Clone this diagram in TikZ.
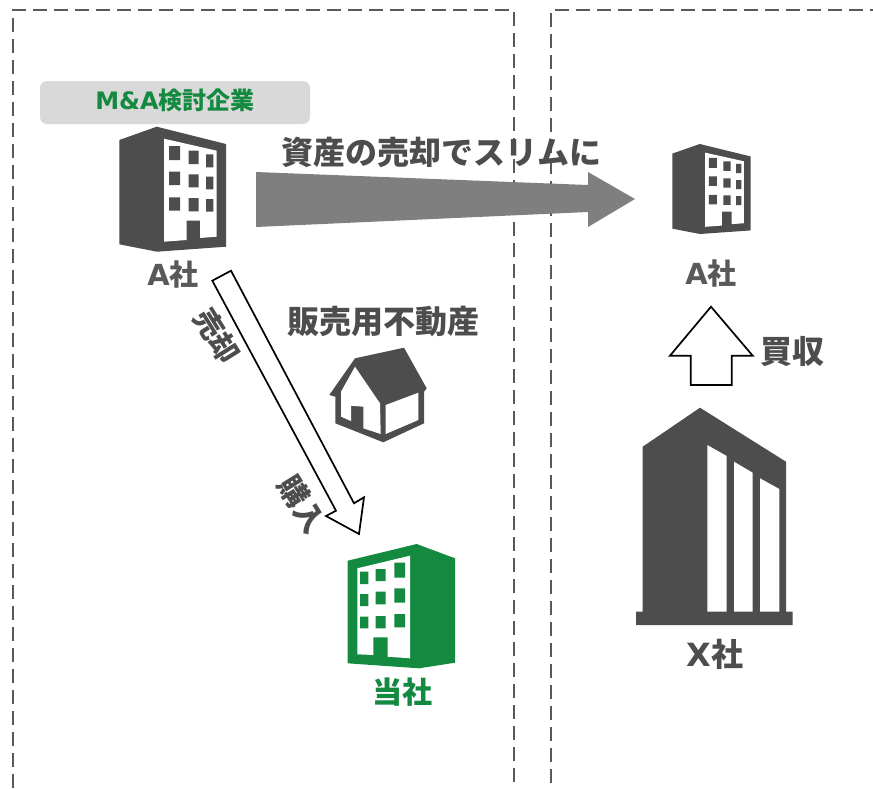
\documentclass[tikz,border=0pt]{standalone}
\usepackage{fontspec}
\setmainfont{DejaVu Sans}[BoldFont={DejaVu Sans Bold}]
\newfontfamily\jpfont{Noto Sans CJK JP Bold}
\definecolor{ink}{HTML}{4D4D4D}
\definecolor{midgray}{HTML}{595959}
\definecolor{corp}{HTML}{148A40}
\definecolor{pill}{HTML}{D9D9D9}
\definecolor{shaft}{HTML}{7F7F7F}
\tikzset{
  boundary/.style={draw=midgray,line width=2pt,dash pattern=on 14pt off 7pt},
  lab/.style={font=\bfseries\fontsize{#1}{#1}\selectfont,inner sep=0pt,anchor=center},
  outlinearrow/.style={draw=black,line width=1.7pt,fill=white,line join=miter},
}
\newcommand{\Lat}[1]{{\fontspec{DejaVu Sans Bold}#1}}
\newcommand{\JP}[1]{{\jpfont #1}}
\newcommand{\BldgA}{%
  \fill[ink] (119.3,140)--(156.7,126.7)--(226,144)--(226,246.7)--(157,251.7)--(119.3,244.3)--cycle;
  \fill[white] (164,138.7)--(216.7,150.7)--(216.7,236.7)--(200,238)--(200,220.7)--(186.7,220.7)--(186.7,240)--(164,241.7)--cycle;
  \fill[ink] (169,146)rectangle(180,160) (188.7,150.7)rectangle(198.7,164) (206,154.3)rectangle(213.3,167.3)
             (169,171.7)rectangle(180,185) (188.7,174.3)rectangle(198.7,187.3) (206,176.7)rectangle(213.3,189.3)
             (169,197.3)rectangle(180,210.7) (188.7,198)rectangle(198.7,211.3) (206,199)rectangle(213.3,211.7);
}
\begin{document}
\begin{tikzpicture}[x=1pt,y=-1pt]
\useasboundingbox (0,0) rectangle (873,788);
% boundaries
\coordinate (lt) at (13,10); \coordinate (lb) at (13,788);
\coordinate (mt) at (514,10); \coordinate (mb) at (514,788);
\coordinate (rt) at (551,10); \coordinate (rb) at (551,783);
\coordinate (re) at (873,10);
\draw[boundary] (lb)--(lt)--(mt)--(mb);
\draw[boundary] (rb)--(rt)--(re);
% label pill
\fill[pill,rounded corners=7pt] (40,81) rectangle (310,124);
\node[lab=24pt,text=corp] (ma) at (175,100) {\Lat{M\&A}\JP{検討企業}};
% left A building
\BldgA
\node[lab=29pt,text=midgray] (a1) at (173,275) {\Lat{A}\JP{社}};
% grey arrow
\fill[shaft] (256,172)--(588,185)--(588,172)--(635,199)--(588,227)--(588,212)--(256,227)--cycle;
\node[lab=32pt,text=ink] (slim) at (441,152) {\JP{資産の売却でスリムに}};
% right A building
\begin{scope}[shift={(672.3,144)},xscale=.735,yscale=.72,shift={(-119.3,-126.7)}]
\BldgA
\end{scope}
\node[lab=29pt,text=midgray] (a2) at (711,274) {\Lat{A}\JP{社}};
% diagonal arrow
\draw[outlinearrow] (212.3,280.7)--(231,270.7)--(354,503.3)--(364,497.3)--(359,534)--(326,516)--(336,510.7)--cycle;
\node[lab=29pt,text=ink,rotate=-58] (sell) at (217,336) {\JP{売却}};
\node[lab=30pt,text=ink,rotate=-58] (buy) at (302,504) {\JP{購入}};
% house
\node[lab=32pt,text=ink] (prop) at (383,321) {\JP{販売用不動産}};
\fill[ink] (329.3,395)--(355,358.3)--(404,347.7)--(426.7,388.3)--(424,391.7)--(424,423.3)--(383.3,442.3)--(335.3,423.3)--(335.3,396.7)--cycle;
\fill[white] (355,366.7)--(380,403.3)--(380.7,434)--(363.3,428.3)--(363.3,406.7)--(351,405.7)--(351,421)--(341,416.7)--(341,391.7)--cycle;
\fill[white] (385.7,405)--(418.3,392.7)--(418.3,420)--(385.7,434)--cycle;
% green building
\fill[corp] (347.7,560.7)--(416.7,544)--(455,558.3)--(455,662.7)--(419,668.3)--(347.7,663.3)--cycle;
\fill[white] (357.3,568.3)--(410,555.7)--(410,658.3)--(387.7,656.7)--(387.7,637.3)--(373.3,637.3)--(373.3,655)--(357.3,654.3)--cycle;
\fill[corp] (360,571.7)rectangle(368.3,584) (375.7,569)rectangle(385.7,581) (394.3,562.7)rectangle(405,577.7)
            (360,594)rectangle(368.3,606) (375.7,591.7)rectangle(385.7,604.3) (394.3,588.3)rectangle(405,602.7)
            (360,616.7)rectangle(368.3,628.3) (375.7,616)rectangle(385.7,628.3) (394.3,614)rectangle(405,627.3);
\node[lab=30pt,text=corp] (own) at (402,692) {\JP{当社}};
% up arrow
\draw[outlinearrow] (711,306.7)--(752.7,355.7)--(731.7,355.7)--(731.7,385)--(690.7,385)--(690.7,355.7)--(670,355.7)--cycle;
\node[lab=32pt,text=ink] (acq) at (792,352) {\JP{買収}};
% X building
\fill[ink] (642.7,446.7)--(700,407.7)--(786,461.7)--(786,611.7)--(792.7,611.7)--(792.7,625)--(636,625)--(636,611.7)--(642.7,611.7)--cycle;
\fill[white] (707.3,445)--(726.7,456)--(726.7,611.7)--(707.3,611.7)--cycle
             (734,461.7)--(752.7,472.7)--(752.7,611.7)--(734,611.7)--cycle
             (760,478.3)--(779.3,489)--(779.3,611.7)--(760,611.7)--cycle;
\node[lab=32pt,text=ink] (x) at (715,654) {\Lat{X}\JP{社}};
\end{tikzpicture}
\end{document}
